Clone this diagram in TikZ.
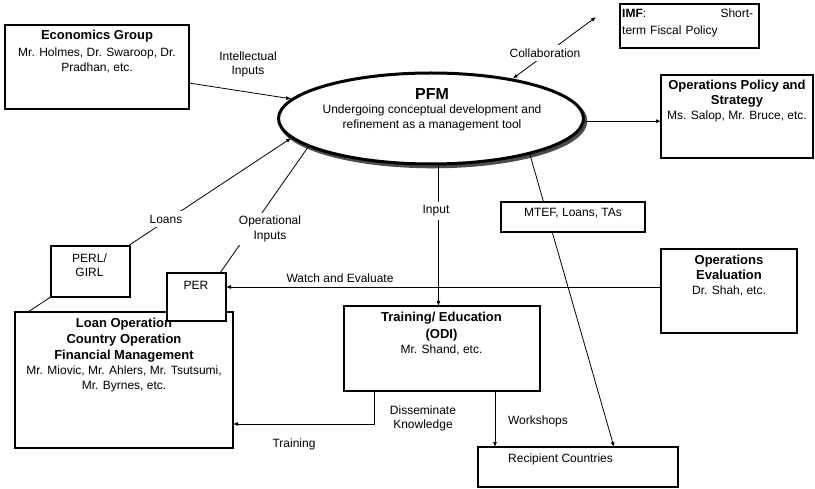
\documentclass[tikz,border=0pt]{standalone}
\usepackage{fontspec}
\setmainfont{Liberation Sans}
\usetikzlibrary{arrows.meta,shapes.geometric}
\newcommand\hdfont{\fontsize{13}{16}\selectfont\bfseries}
\newcommand\bdfont{\fontsize{12}{14.5}\selectfont}

\begin{document}
\begin{tikzpicture}[x=1pt,y=-1pt,
  box/.style={draw, line width=1.1pt, fill=white, rectangle, inner sep=0pt, outer sep=0pt, anchor=north west},
  txt/.style={font=\bdfont, align=center, inner sep=0pt},
  lbl/.style={font=\bdfont, align=center, inner sep=0pt},
  cut/.style={font=\bdfont, align=center, fill=white, inner sep=3.5pt},
  conn/.style={line width=0.8pt},
  tip/.tip={Latex[length=5pt,width=4pt]},
  arr/.style={conn, -tip},
  ell/.style={ellipse, line width=3pt, minimum width=305pt, minimum height=91pt, inner sep=0pt},
]
\useasboundingbox (0,0) rectangle (815,489);

% central ellipse with its drop shadow
\node[ell, draw=black!70, line width=3.6pt] (pfmsh) at (433,121) {};
\node[ell, draw, fill=white] (pfm) at (431,118.5) {};
\node[txt, anchor=north] (pfmtxt) at (432,88) {{\fontsize{16}{18}\selectfont\bfseries PFM}\\[0pt]
  Undergoing conceptual development and\\ refinement as a management tool};

% boxes
\node[box, minimum width=184pt, minimum height=84pt] (econ) at (5,25) {};
\node[txt, anchor=north] (econtxt) at (97,30.3) {{\hdfont Economics Group}\\[2.5pt]
  Mr. Holmes, Dr. Swaroop, Dr.\\ Pradhan, etc.};

\node[box, minimum width=139pt, minimum height=44pt] (imf) at (620,4) {};
\node[txt, align=left, text width=131pt, anchor=north west] (imftxt) at (622,8.6)
  {\textbf{IMF}:\hfill Short-\\[3pt] term Fiscal Policy};

\node[box, minimum width=152pt, minimum height=83pt] (ops) at (661,75) {};
\node[txt, anchor=north] (opstxt) at (737,80.3) {{\hdfont Operations Policy and}\\[0.5pt]
  {\hdfont Strategy}\\[0.5pt] Ms. Salop, Mr. Bruce, etc.};

\node[box, minimum width=136pt, minimum height=84pt] (opeval) at (661,249) {};
\node[txt, anchor=north] (opevaltxt) at (729,255.3) {{\hdfont Operations}\\[0.5pt]
  {\hdfont Evaluation}\\[0.5pt] Dr. Shah, etc.};

\node[box, minimum width=196pt, minimum height=85pt] (train) at (344,306) {};
\node[txt, anchor=north] (traintxt) at (441.5,312.3) {{\hdfont Training/ Education}\\[2pt]
  {\hdfont (ODI)}\\[0.5pt] Mr. Shand, etc.};

\node[box, minimum width=200pt, minimum height=40pt] (recip) at (478,447) {};
\node[txt, anchor=base west] (reciptxt) at (508,462.3) {Recipient Countries};

\node[box, minimum width=218pt, minimum height=136pt] (loan) at (15,312) {};
\node[txt, anchor=north] (loantxt) at (124,318.3) {{\hdfont Loan Operation}\\[1.5pt]
  {\hdfont Country Operation}\\[1.5pt] {\hdfont Financial Management}\\[0pt]
  Mr. Miovic, Mr. Ahlers, Mr. Tsutsumi,\\[0.5pt] Mr. Byrnes, etc.};

\node[box, minimum width=59pt, minimum height=48pt] (per) at (167,273) {};
\node[txt, anchor=north] (pertxt) at (196,280.6) {PER};

% connectors
\draw[arr] ([yshift=-16pt]econ.east) -- (pfm.172);
\coordinate (imfend) at (596,17);
\draw[conn, tip-tip] (pfm.26) -- (imfend);
\draw[arr] (pfm.-1.7) -- (pfm.-1.7 -| ops.west);
\draw[arr] (pfm.-81) -- (pfm.-81 |- train.north);
\draw[arr] ([yshift=4pt]opeval.west) -- ([yshift=4pt]opeval.west -| per.east);
\draw[arr] (pfm.-20) -- ([xshift=136pt]recip.north west);
\draw[arr] ([xshift=-45pt]train.south east) -- ([xshift=-45pt]train.south east |- recip.north);
\draw[arr] ([xshift=30pt]train.south west) |- ([yshift=-44pt]loan.east);
\draw[arr] ([xshift=13pt]loan.north west) -- (pfm.188);
\draw[conn] ([xshift=-6pt]per.north east) -- (pfm.193.6);

% boxes lying over connectors
\node[box, minimum width=79pt, minimum height=51pt] (perl) at (51,246) {};
\node[txt, anchor=north] (perltxt) at (89.5,253.6) {PERL/\\ GIRL};

\node[box, minimum width=144pt, minimum height=30pt] (mtef) at (501,202) {};
\node[txt, anchor=north] (mteftxt) at (573,208.1) {MTEF, Loans, TAs};

% connector labels
\node[cut] (collab) at (545,53) {Collaboration};
\node[cut] (loanslbl) at (166,219) {Loans};
\node[cut] (opinlbl) at (270,229) {Operational\\ Inputs};
\node[cut] (inputlbl) at (436,211) {Input};
\node[lbl] (intlbl) at (248,64.5) {Intellectual\\ Inputs};
\node[lbl] (watchlbl) at (340,278.5) {Watch and Evaluate};
\node[lbl] (disslbl) at (423,418.5) {Disseminate\\ Knowledge};
\node[lbl] (worklbl) at (538,421.5) {Workshops};
\node[lbl] (trainlbl) at (294,444.5) {Training};
\end{tikzpicture}
\end{document}
